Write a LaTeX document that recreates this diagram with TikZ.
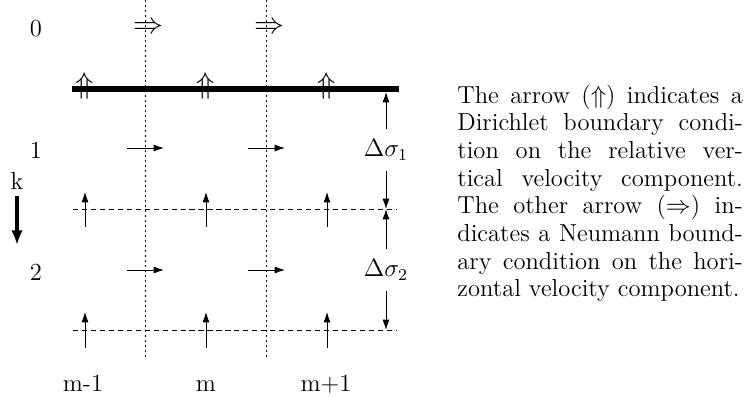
\documentclass[tikz,border=0pt]{standalone}
\usetikzlibrary{arrows.meta}
\begin{document}
\begin{tikzpicture}[x=0.48pt,y=-0.48pt,
  every node/.style={font=\fontsize{11.8pt}{13.3pt}\selectfont},
  lbl/.style={inner sep=0pt},
  dimlbl/.style={inner sep=5pt},
  thinarrow/.style={line width=0.45pt,-{Latex[length=5pt,width=3.4pt]}},
  gridline/.style={line width=0.45pt,dash pattern=on 2.5pt off 1.8pt},
  cellline/.style={line width=0.45pt,dash pattern=on 1.1pt off 1.3pt},
  boundary/.style={line width=2.9pt},
  bigsym/.style={inner sep=0pt,font=\fontsize{14.4pt}{16pt}\selectfont},
  karrow/.style={line width=1.5pt,-{Latex[length=7pt,width=5.5pt]}}]
\useasboundingbox (0,0) rectangle (747,396);

% vertical cell lines
\coordinate (v1t) at (145,0);   \coordinate (v1b) at (145,360);
\coordinate (v2t) at (266,0);   \coordinate (v2b) at (266,360);
\draw[cellline] (v1t) -- (v1b);
\draw[cellline] (v2t) -- (v2b);

% horizontal dashed level lines
\coordinate (h1l) at (73,209);  \coordinate (h1r) at (397,209);
\coordinate (h2l) at (73,330);  \coordinate (h2r) at (397,330);
\draw[gridline] (h1l) -- (h1r);
\draw[gridline] (h2l) -- (h2r);

% thick boundary
\coordinate (bl) at (72,89); \coordinate (br) at (399,89);
\draw[boundary] (bl) -- (br);

% Neumann arrows
\node[bigsym] (n1) at (148,28) {$\Rightarrow$};
\node[bigsym] (n2) at (269,28) {$\Rightarrow$};

% Dirichlet arrows
\node[bigsym] (dA) at (85,85.5) {$\Uparrow$};
\node[bigsym] (dB) at (206,85.5) {$\Uparrow$};
\node[bigsym] (dC) at (327,85.5) {$\Uparrow$};

% horizontal velocity arrows
\draw[thinarrow] (127,148) -- (164,148);
\draw[thinarrow] (248,148) -- (285,148);
\draw[thinarrow] (127,270) -- (164,270);
\draw[thinarrow] (248,270) -- (285,270);

% vertical velocity arrows
\foreach \x in {85,206,327}{
  \draw[thinarrow] (\x,227) -- (\x,192);
  \draw[thinarrow] (\x,348) -- (\x,312);
}

% row labels
\node[lbl] (r0) at (36,29) {0};
\node[lbl] (r1) at (36,150) {1};
\node[lbl] (r2) at (36,272) {2};

% k arrow
\node[inner sep=3pt] (k) at (17,181) {k};
\coordinate (kend) at (17,245);
\draw[karrow] (k) -- (kend);

% column labels
\node[lbl,anchor=base] (c1) at (83,391) {m-1};
\node[lbl,anchor=base] (c2) at (206,391) {m};
\node[lbl,anchor=base] (c3) at (326,391) {m+1};

% dimension arrows
\node[dimlbl] (ds1) at (386,150) {$\Delta\sigma_1$};
\node[dimlbl] (ds2) at (386,270) {$\Delta\sigma_2$};
\coordinate (t1) at (386,92);
\coordinate (b1) at (386,209);
\coordinate (t2) at (386,209);
\coordinate (b2) at (386,330);
\draw[thinarrow] (ds1) -- (t1);
\draw[thinarrow] (ds1) -- (b1);
\draw[thinarrow] (ds2) -- (t2);
\draw[thinarrow] (ds2) -- (b2);

% caption text
\node[inner sep=0pt,anchor=base west] (cap) at (457,103) {\parbox[t]{137pt}{\noindent
The arrow ($\Uparrow$) indicates a\linebreak Dirichlet boundary condi-\linebreak tion on the relative ver-\linebreak tical velocity component.\linebreak The other arrow ($\Rightarrow$) in-\linebreak dicates a Neumann bound-\linebreak ary condition on the hori-\linebreak zontal velocity component.}};
\end{tikzpicture}
\end{document}
